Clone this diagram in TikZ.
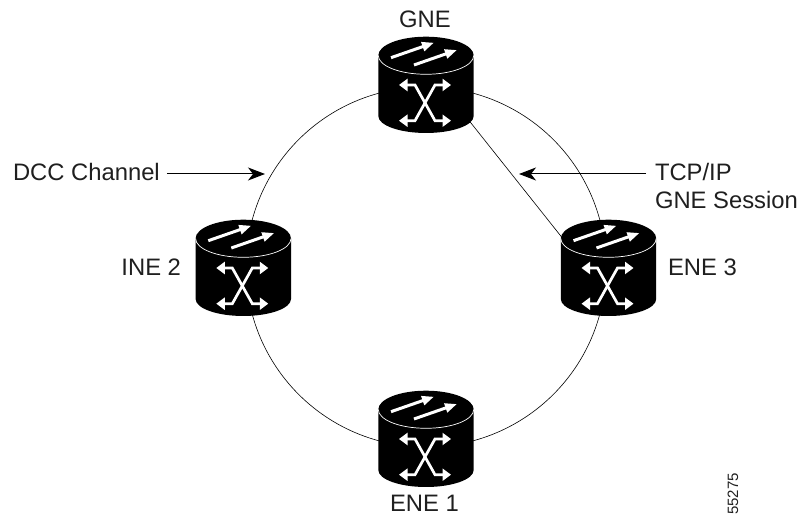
\documentclass[tikz,border=0pt]{standalone}
\usepackage{fontspec}
\setmainfont{Liberation Sans}
\usetikzlibrary{arrows.meta}
\tikzset{
  routerbox/.style={minimum width=96pt,minimum height=96pt,inner sep=0pt,outer sep=0pt},
  ring/.style={black,line width=0.6pt},
  lead/.style={black,line width=1pt,-{Stealth[length=17pt,width=13pt,inset=5pt]}},
  label/.style={inner sep=0pt,outer sep=0pt,font=\fontsize{23.8pt}{28pt}\selectfont,text=black!88},
  wharrow/.style={white,line width=3pt,-{Triangle[length=12pt,width=9pt]}},
  xarrow/.style={white,line width=2.7pt,{Triangle[length=8.5pt,width=12pt]}-{Triangle[length=8.5pt,width=12pt]}}
}
% #1 node, #2 offset of the drawn router from the node's ring point
\newcommand{\routerart}[2]{%
  \begin{scope}[shift={(#1.center)},shift={(#2)}]
    \fill[black] (-47.7,29.5) -- (-47.7,-31) arc[start angle=180,end angle=360,x radius=47.7,y radius=17] -- (47.7,29.5) arc[start angle=0,end angle=180,x radius=47.7,y radius=18.8] -- cycle;
    \draw[white,line width=0.7pt] (-47.7,29.5) arc[start angle=180,end angle=360,x radius=47.7,y radius=18.8];
    \draw[wharrow] (-35,27.3) -- (8,42.3);
    \draw[wharrow] (-12,20) -- (31,35);
    \draw[xarrow] (-27,0) -- (-11,0) -- (9,-35.7) -- (25,-35.7);
    \draw[xarrow] (25,0) -- (9,0) -- (-11,-35.7) -- (-27,-35.7);
  \end{scope}}
\begin{document}
\begin{tikzpicture}[x=1pt,y=1pt]
\useasboundingbox (0,0) rectangle (800,516);
\node[routerbox] (gne) at (426,429) {};
\node[routerbox] (ene3) at (606,249) {};
\node[routerbox] (ine2) at (246,249) {};
\node[routerbox] (ene1) at (426,69) {};
\coordinate (gnetap) at (441,430.7);
\coordinate (enetap) at (575,262.1);
\draw[ring] (gne.center) to[out=0,in=90] (ene3.center);
\draw[ring] (ene3.center) to[out=-90,in=0] (ene1.center);
\draw[ring] (ene1.center) to[out=180,in=-90] (ine2.center);
\draw[ring] (ine2.center) to[out=90,in=180] (gne.center);
\draw[ring] (gnetap) -- (enetap);
\routerart{gne}{0,2}
\routerart{ene3}{2.5,-1}
\routerart{ine2}{-2.7,-1}
\routerart{ene1}{0,8}
\node[label,anchor=base] (gnelabel) at (425,488.3) {GNE};
\node[label,anchor=base east] (inelabel) at (181,240) {INE 2};
\node[label,anchor=base west] (ene3label) at (668,240.5) {ENE 3};
\node[label,anchor=base] (ene1label) at (424.5,4) {ENE 1};
\node[label,anchor=base west] (dcc) at (13,335.3) {DCC Channel};
\node[label,anchor=base west] (tcp) at (655,335) {TCP/IP};
\node[label,anchor=base west] (session) at (655,307.7) {GNE Session};
\node[inner sep=0pt,outer sep=0pt,font=\fontsize{15pt}{15pt}\selectfont,rotate=90,anchor=base east,text=black!88] (serial) at (738,43) {55275};
\coordinate (dcctip) at (265,342);
\coordinate (tcptip) at (519,342);
\draw[lead] (dcc.east |- dcctip) ++(7,0) -- (dcctip);
\draw[lead] (tcp.west |- tcptip) ++(-9,0) -- (tcptip);
\end{tikzpicture}
\end{document}
